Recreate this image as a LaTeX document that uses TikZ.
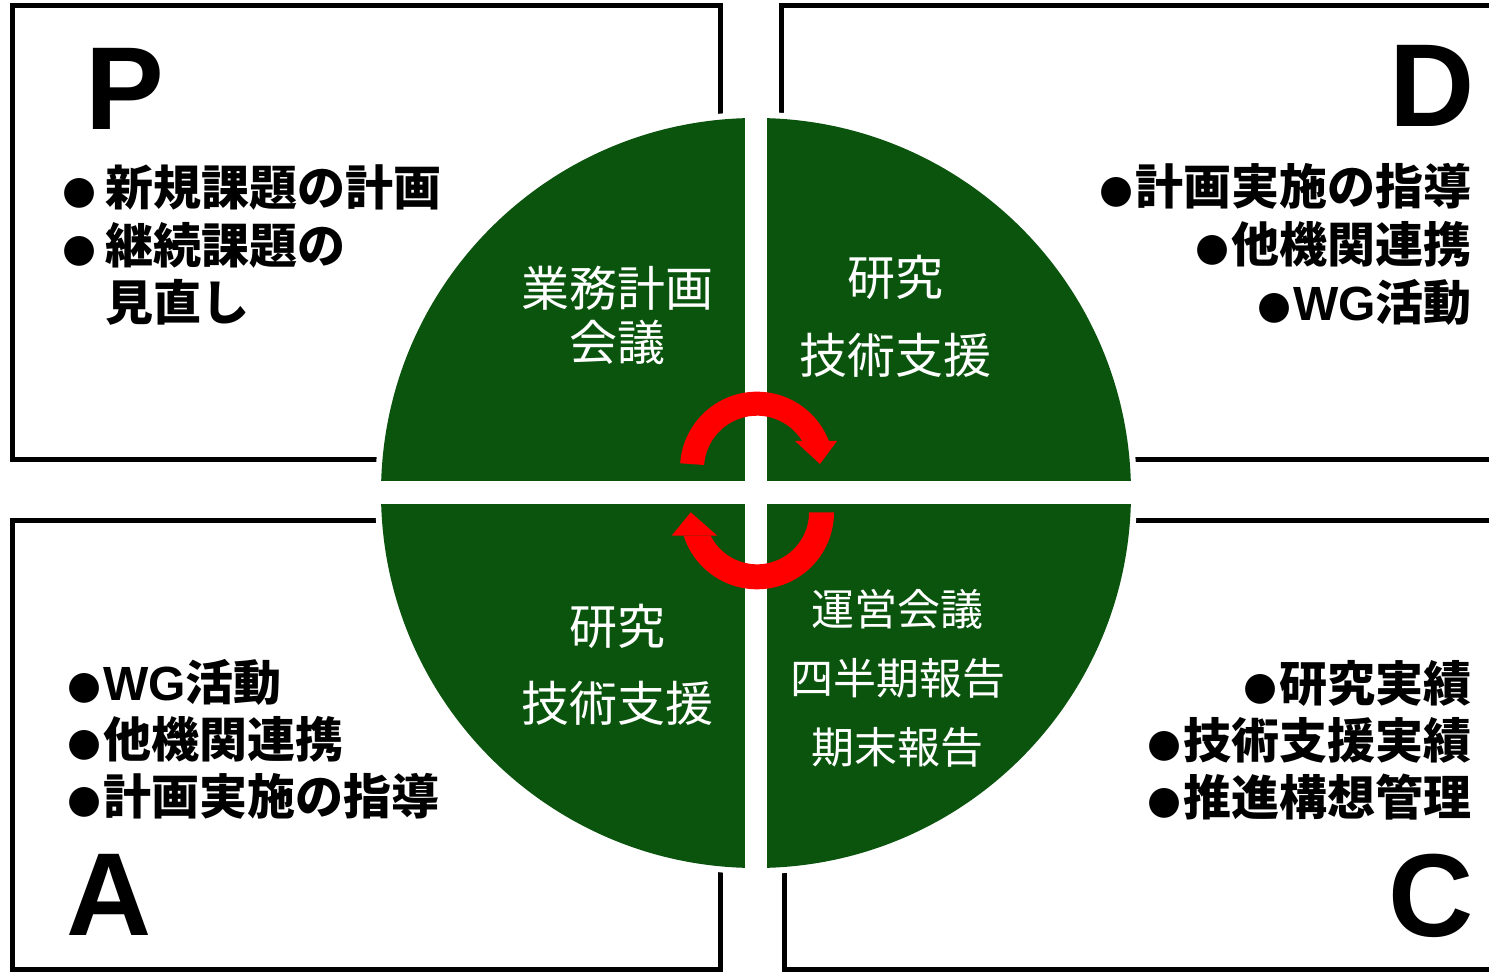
\documentclass[tikz,border=0pt]{standalone}
\usepackage{fontspec}
\newfontfamily\jp{Noto Sans CJK JP}
\newfontfamily\lat{Liberation Sans}
\newfontfamily\dv{DejaVu Sans}
\definecolor{qgreen}{RGB}{10,84,14}
\definecolor{qred}{RGB}{255,0,0}
\newcommand{\bul}[1]{\makebox[#1][l]{\raisebox{2pt}{\dv\fontsize{39}{39}\selectfont ●}}}
\begin{document}
\begin{tikzpicture}[x=1pt,y=1pt,
  frame/.style={line width=5pt, draw=black},
  big/.style={font=\lat\bfseries\fontsize{118}{118}\selectfont, inner sep=0pt},
  item/.style={font=\jp\bfseries\fontsize{48}{48}\selectfont, inner sep=0pt},
  intext/.style={font=\jp\fontsize{48}{48}\selectfont, text=white, inner sep=0pt},
  smalltext/.style={font=\jp\fontsize{43}{43}\selectfont, text=white, inner sep=0pt},
  arrowbody/.style={fill=qred}]
\useasboundingbox (0,0) rectangle (1489,-973);
\clip (0,0) rectangle (1489,-973);
% frames
\draw[frame] (12,-5.5) rectangle (720.5,-459.5);
\draw[frame] (781.5,-5.5) rectangle (1530,-459.5);
\draw[frame] (12,-520.5) rectangle (720.5,-969);
\draw[frame] (784,-520.5) rectangle (1530,-969);
% circle
\fill[white] (756,-493) circle (381);
\fill[qgreen] (756,-493) circle (375);
\fill[white] (745,-100) rectangle (767,-890);
\fill[white] (360,-481) rectangle (1150,-504);
% top arrow
\fill[arrowbody] (680.2,-463.3) arc[start angle=176, end angle=21.1, radius=77]
  -- (802.2,-441) arc[start angle=31.5, end angle=176, radius=53] -- cycle;
\fill[arrowbody] (795,-441) -- (837,-441) -- (820,-464) -- cycle;
% bottom arrow
\fill[arrowbody] (834,-512.3) arc[start angle=0, end angle=-162.3, radius=77]
  -- (710.6,-535.7) arc[start angle=-153.3, end angle=0, radius=52] -- cycle;
\fill[arrowbody] (671.7,-535.7) -- (717.3,-535.7) -- (690.7,-512.3) -- cycle;
% big letters
\node[big] (P) at (125,-89) {P};
\node[big] (D) at (1432,-86) {D};
\node[big] (A) at (109,-895) {A};
\node[big] (C) at (1431,-896) {C};
% P items
\node[item, anchor=west] (p1) at (62,-188) {\bul{43pt}新規課題の計画};
\node[item, anchor=west] (p2) at (62,-245) {\bul{43pt}継続課題の};
\node[item, anchor=west] (p3) at (105,-302) {見直し};
% D items
\node[item, anchor=east] (d1) at (1472,-186) {\bul{36pt}計画実施の指導};
\node[item, anchor=east] (d2) at (1472,-244) {\bul{36pt}他機関連携};
\node[item, anchor=east] (d3) at (1472,-302) {\bul{36pt}{\lat\bfseries WG}活動};
% A items
\node[item, anchor=west] (a1) at (67,-682) {\bul{36pt}{\lat\bfseries WG}活動};
\node[item, anchor=west] (a2) at (67,-739) {\bul{36pt}他機関連携};
\node[item, anchor=west] (a3) at (67,-796) {\bul{36pt}計画実施の指導};
% C items
\node[item, anchor=east] (c1) at (1472,-683) {\bul{36pt}研究実績};
\node[item, anchor=east] (c2) at (1472,-740) {\bul{36pt}技術支援実績};
\node[item, anchor=east] (c3) at (1472,-797) {\bul{36pt}推進構想管理};
% circle texts
\node[intext] (q1a) at (617,-288) {業務計画};
\node[intext] (q1b) at (617,-342) {会議};
\node[intext] (q2a) at (895,-277) {研究};
\node[intext] (q2b) at (895,-355) {技術支援};
\node[intext] (q3a) at (617,-626) {研究};
\node[intext] (q3b) at (617,-703) {技術支援};
\node[smalltext] (q4a) at (897,-609) {運営会議};
\node[smalltext] (q4b) at (898,-678) {四半期報告};
\node[smalltext] (q4c) at (897,-747) {期末報告};
\end{tikzpicture}
\end{document}
